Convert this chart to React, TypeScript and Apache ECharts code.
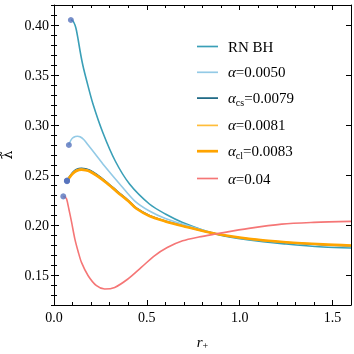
import React, { useEffect, useRef } from "react";
import * as echarts from "echarts";

const rnX = [0.091, 0.1, 0.107, 0.114, 0.121, 0.13, 0.14, 0.15, 0.16, 0.175, 0.21, 0.264, 0.33, 0.407, 0.514, 0.6, 0.693, 0.871, 1.05, 1.25, 1.45, 1.6];
const rnY = [0.405, 0.4045, 0.4025, 0.3995, 0.3945, 0.3855, 0.3745, 0.3645, 0.356, 0.345, 0.321, 0.292, 0.264, 0.241, 0.221, 0.211, 0.2026, 0.191, 0.185, 0.181, 0.178, 0.177];

const a1X = [0.08, 0.09, 0.1, 0.115, 0.127, 0.14, 0.16, 0.184, 0.22, 0.27, 0.363, 0.434, 0.514, 0.6, 0.693, 0.871, 1.05, 1.25, 1.45, 1.6];
const a1Y = [0.28, 0.2845, 0.287, 0.2885, 0.2888, 0.2882, 0.2855, 0.28, 0.2715, 0.2595, 0.239, 0.2242, 0.214, 0.2065, 0.2009, 0.1915, 0.1858, 0.1825, 0.18, 0.1788];

const csX = [0.07, 0.08, 0.1, 0.12, 0.148, 0.17, 0.193, 0.23, 0.28, 0.34, 0.407, 0.443, 0.514, 0.6, 0.693, 0.871, 1.05, 1.25, 1.45, 1.6];
const csY = [0.2445, 0.2475, 0.2525, 0.2555, 0.2568, 0.2563, 0.2548, 0.2505, 0.2435, 0.234, 0.2235, 0.217, 0.2095, 0.204, 0.1993, 0.1912, 0.186, 0.1825, 0.1803, 0.1792];

const a3Y = [0.2442, 0.247, 0.2518, 0.2547, 0.256, 0.2555, 0.2541, 0.2499, 0.243, 0.2335, 0.2231, 0.2167, 0.2092, 0.2038, 0.1992, 0.1912, 0.1861, 0.1827, 0.1805, 0.1794];
const clY = [0.2438, 0.2465, 0.2512, 0.254, 0.2553, 0.2548, 0.2535, 0.2494, 0.2426, 0.2331, 0.2228, 0.2165, 0.209, 0.2036, 0.199, 0.1912, 0.1862, 0.1828, 0.1806, 0.1795];

const redX = [0.05, 0.06, 0.068, 0.08, 0.095, 0.1125, 0.13, 0.148, 0.184, 0.229, 0.273, 0.327, 0.398, 0.47, 0.541, 0.61, 0.693, 0.78, 0.871, 1.05, 1.227, 1.4, 1.6];
const redY = [0.2286, 0.2278, 0.2259, 0.216, 0.2026, 0.1859, 0.1735, 0.1626, 0.1493, 0.1393, 0.136, 0.1376, 0.146, 0.1576, 0.1692, 0.1775, 0.1842, 0.188, 0.191, 0.1966, 0.2009, 0.2026, 0.2036];

const names = ["RN BH", "α=0.0050", "α_cs=0.0079", "α=0.0081", "α_cl=0.0083", "α=0.04"];
const legendLabels: Record<string, string> = {
  "RN BH": "{n|RN BH}",
  "α=0.0050": "{it|α}{n|=0.0050}",
  "α_cs=0.0079": "{it|α}{sub|cs}{n|=0.0079}",
  "α=0.0081": "{it|α}{n|=0.0081}",
  "α_cl=0.0083": "{it|α}{sub|cl}{n|=0.0083}",
  "α=0.04": "{it|α}{n|=0.04}",
};
const colors = ["#3a9fb7", "#93cae6", "#14627f", "#ffbd3a", "#ffa400", "#f57676"];
const widths = [1.6, 1.6, 1.6, 1.6, 2.6, 1.6];

const zip = (xs: number[], ys: number[]) => xs.map((x, i) => [x, ys[i]]);

const FONT = "Liberation Serif, Times New Roman, serif";

export default function App() {
  const ref = useRef<HTMLDivElement>(null);
  useEffect(() => {
    if (!ref.current) return;
    const chart = echarts.init(ref.current, undefined, { renderer: "svg" });
    const datas = [
      zip(rnX, rnY),
      zip(a1X, a1Y),
      zip(csX, csY),
      zip(csX, a3Y),
      zip(csX, clY),
      zip(redX, redY),
    ];
    const starts = datas.map((d) => d[0]);
    const line = { show: true, onZero: false, lineStyle: { color: "#000", width: 1 } };
    const major = { show: true, inside: true, length: 5, lineStyle: { color: "#000" } };
    const minor = { show: true, inside: true, length: 3, lineStyle: { color: "#000" } };
    const isMult = (v: number, step: number) => Math.abs(v / step - Math.round(v / step)) < 1e-6;
    const minorAxis = (pos: string, min: number, max: number, step: number) => ({
      type: "value",
      position: pos,
      min,
      max,
      interval: step,
      axisLine: { show: false },
      axisTick: minor,
      axisLabel: { show: false },
      splitLine: { show: false },
    });
    chart.setOption({
      animation: false,
      grid: { left: 54, right: 3, top: 5, bottom: 49, containLabel: false, outerBoundsMode: "none" },
      legend: {
        data: names.map((n, i) => ({
          name: n,
          icon: `path://M0,0H20V${widths[i]}H0Z`,
        })),
        orient: "vertical",
        left: 192,
        top: 34,
        itemWidth: 21,
        itemHeight: 14,
        itemGap: 10.8,
        symbolKeepAspect: true,
        formatter: (n: string) => legendLabels[n] || n,
        textStyle: {
          fontFamily: FONT,
          fontSize: 15,
          color: "#000",
          padding: [0, 0, 0, 5],
          rich: {
            n: { fontFamily: FONT, fontSize: 15, color: "#000" },
            it: { fontFamily: FONT, fontSize: 15, fontStyle: "italic", color: "#000" },
            sub: { fontFamily: FONT, fontSize: 10, color: "#000", padding: [8, 0, 0, 0] },
          },
        },
      },
      xAxis: [
        {
          type: "value",
          min: 0,
          max: 1.6,
          interval: 0.5,
          axisLine: line,
          axisTick: major,
          splitLine: { show: false },
          axisLabel: {
            fontFamily: FONT,
            fontSize: 14,
            color: "#000",
            margin: 5,
            formatter: (v: number) => (isMult(v, 0.5) ? v.toFixed(1) : ""),
          },
          name: "{i|r}{s|+}",
          nameLocation: "middle",
          nameGap: 28,
          nameTextStyle: {
            rich: {
              i: { fontFamily: FONT, fontSize: 15, fontStyle: "italic", color: "#000" },
              s: { fontFamily: FONT, fontSize: 10, color: "#000", padding: [7, 0, 0, 0] },
            },
          },
        },
        {
          type: "value",
          position: "top",
          min: 0,
          max: 1.6,
          interval: 0.5,
          axisLine: line,
          axisTick: major,
          splitLine: { show: false },
          axisLabel: { show: false },
        },
        minorAxis("bottom", 0, 1.6, 0.1),
        minorAxis("top", 0, 1.6, 0.1),
      ],
      yAxis: [
        {
          type: "value",
          min: 0.12,
          max: 0.42,
          splitNumber: 6,
          axisLine: line,
          axisTick: major,
          splitLine: { show: false },
          axisLabel: {
            fontFamily: FONT,
            fontSize: 14,
            color: "#000",
            margin: 5,
            formatter: (v: number) => (isMult(v, 0.05) ? v.toFixed(2) : ""),
          },
          name: "λ\u0303",
          nameLocation: "middle",
          nameRotate: 90,
          nameGap: 44,
          nameTextStyle: {
            fontFamily: "DejaVu Serif",
            fontSize: 14,
            color: "#000",
            align: "center",
            verticalAlign: "middle",
          },
        },
        {
          type: "value",
          position: "right",
          min: 0.12,
          max: 0.42,
          splitNumber: 6,
          axisLine: line,
          axisTick: major,
          splitLine: { show: false },
          axisLabel: { show: false },
        },
        minorAxis("left", 0.12, 0.42, 0.01),
        minorAxis("right", 0.12, 0.42, 0.01),
      ],
      series: [
        ...names.map((n, i) => ({
          name: n,
          type: "line",
          data: datas[i],
          smooth: 0.3,
          showSymbol: false,
          symbol: "none",
          color: colors[i],
          itemStyle: { color: colors[i] },
          lineStyle: { color: colors[i], width: widths[i] },
          z: 2 + i,
        })),
        {
          type: "scatter",
          data: starts,
          symbolSize: 6,
          itemStyle: { color: "#5673bd" },
          z: 20,
        },
      ],
    });
    return () => chart.dispose();
  }, []);
  return <div ref={ref} style={{ position: "fixed", left: 0, top: 0, width: 354, height: 354 }} />;
}
